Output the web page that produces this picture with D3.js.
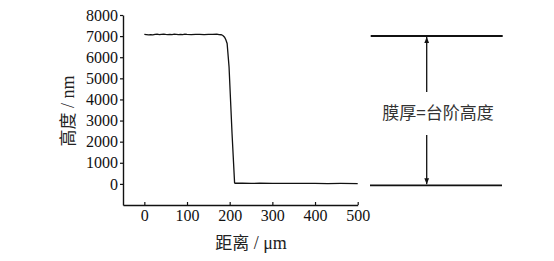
<!DOCTYPE html>
<html>
<head>
<meta charset="utf-8">
<title>step height</title>
<script type="text/javascript" src="https://cdn.jsdelivr.net/npm/d3@7"></script>
<style>
  body { margin: 0; background: #fff; }
  svg text, svg tspan { font-family: "Liberation Serif", serif; }
  svg .cjk { font-family: "Noto Sans CJK SC", sans-serif; }
</style>
</head>
<body>
<script type="text/javascript">
var width = 554
var height = 261

// profile: distance (um) and height (nm)
var distance = [0, 5, 10, 15, 20, 25, 30, 35, 40, 45, 50, 55, 60, 65, 70, 75, 80, 85, 90, 95,
                100, 110, 120, 130, 140, 150, 160, 170, 175, 180, 184, 188, 191, 194, 198.5, 205.5, 211.5,
                213, 230, 250, 270, 300, 330, 360, 400, 430, 460, 500]
var heightNm = [7080, 7070, 7055, 7065, 7060, 7080, 7090, 7075, 7085, 7095, 7080, 7070, 7085, 7075, 7090, 7080, 7070, 7085, 7075, 7090,
                7080, 7070, 7085, 7080, 7075, 7085, 7080, 7090, 7075, 7065, 7030, 6950, 6830, 6650, 5550, 2400, 50,
                30, 35, 25, 30, 25, 20, 25, 20, 15, 20, 15]

var xTicks = [0, 100, 200, 300, 400, 500]
var yTicks = [0, 1000, 2000, 3000, 4000, 5000, 6000, 7000, 8000]
var stepLabel = "膜厚=台阶高度"

var svg = d3.select("body").append("svg")
    .attr("width", width).attr("height", height)
    .attr("font-family", "Liberation Serif")

var x = d3.scaleLinear().domain([-50, 500]).range([123, 357.7])
var y = d3.scaleLinear().domain([-1000, 8000]).range([205, 15])

// y axis
var yAxis = svg.append("g")
    .attr("transform", "translate(123,0)")
    .call(d3.axisLeft(y).tickValues(yTicks).tickFormat(d3.format("d"))
        .tickSize(3).tickPadding(2).tickSizeOuter(0))
yAxis.attr("font-family", "Liberation Serif").attr("font-size", 16)
yAxis.select(".domain").attr("stroke", "#111").attr("stroke-width", 1.4)
yAxis.selectAll(".tick line").attr("stroke", "#111").attr("stroke-width", 1.2)
yAxis.selectAll(".tick text").attr("fill", "#111")

// x axis with ticks pointing up
var xAxis = svg.append("g")
    .attr("transform", "translate(0,205)")
    .call(d3.axisBottom(x).tickValues(xTicks).tickFormat(d3.format("d"))
        .tickSize(-3).tickPadding(5).tickSizeOuter(0))
xAxis.attr("font-family", "Liberation Serif").attr("font-size", 16)
xAxis.select(".domain").attr("stroke", "#111").attr("stroke-width", 1.6)
xAxis.selectAll(".tick line").attr("stroke", "#111").attr("stroke-width", 1.2)
xAxis.selectAll(".tick text").attr("fill", "#111")

// profile line
var pts = distance.map(function(d, i){ return [d, heightNm[i]] })
var line = d3.line()
    .x(function(d){ return x(d[0]) })
    .y(function(d){ return y(d[1]) })

svg.append("path")
    .attr("d", line(pts))
    .attr("fill", "none")
    .attr("stroke", "#111")
    .attr("stroke-width", 1.3)

// axis titles
var xt = svg.append("text")
    .attr("x", 251).attr("y", 249)
    .attr("text-anchor", "middle")
    .attr("font-size", 18)
    .attr("fill", "#222")
xt.append("tspan").attr("class", "cjk").attr("font-size", 17).text("距离")
xt.append("tspan").text(" / μm")

var yt = svg.append("text")
    .attr("transform", "translate(74,111) rotate(-90)")
    .attr("text-anchor", "middle")
    .attr("font-size", 18)
    .attr("fill", "#222")
yt.append("tspan").attr("class", "cjk").attr("font-size", 17).text("高度")
yt.append("tspan").text(" / nm")

// step annotation on the right
var topY = 36, botY = 185.3
var ax = 426.7

var defs = svg.append("defs")
defs.append("marker")
    .attr("id", "arrow")
    .attr("viewBox", "0 0 10 10")
    .attr("refX", 10).attr("refY", 5)
    .attr("markerWidth", 6).attr("markerHeight", 6)
    .attr("markerUnits", "userSpaceOnUse")
    .attr("orient", "auto")
  .append("path")
    .attr("d", "M0,1 L10,5 L0,9 Z")
    .attr("fill", "#111")

svg.append("line").attr("x1", 370.7).attr("x2", 502.7).attr("y1", topY).attr("y2", topY)
    .attr("stroke", "#111").attr("stroke-width", 1.8)
svg.append("line").attr("x1", 370).attr("x2", 502).attr("y1", botY).attr("y2", botY)
    .attr("stroke", "#111").attr("stroke-width", 1.8)

svg.append("line").attr("x1", ax).attr("x2", ax).attr("y1", 92).attr("y2", topY + 1)
    .attr("stroke", "#111").attr("stroke-width", 1.3).attr("marker-end", "url(#arrow)")
svg.append("line").attr("x1", ax).attr("x2", ax).attr("y1", 135).attr("y2", botY - 1)
    .attr("stroke", "#111").attr("stroke-width", 1.3).attr("marker-end", "url(#arrow)")

svg.append("text")
    .attr("class", "cjk")
    .attr("x", 438).attr("y", 119)
    .attr("text-anchor", "middle")
    .attr("font-size", 17)
    .attr("fill", "#333")
    .text(stepLabel)
</script>
</body>
</html>
